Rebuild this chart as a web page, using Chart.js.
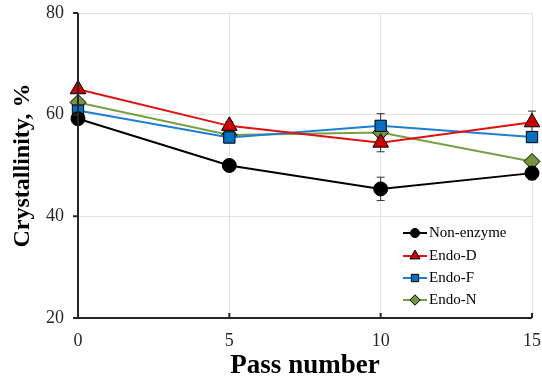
<!DOCTYPE html>
<html>
<head>
<meta charset="utf-8">
<script src="https://cdn.jsdelivr.net/npm/chart.js@4"></script>
<style>
  html, body { margin: 0; padding: 0; background: #fff; }
  #wrap { width: 542px; height: 382px; }
</style>
</head>
<body>
<div id="wrap"><canvas id="crystChart" width="542" height="382"></canvas></div>
<script>
// Data
const passNumbers = [0, 5, 10, 15];
const nonEnzyme = [59.2, 50.0, 45.4, 48.5];
const endoD = [65.0, 57.8, 54.5, 58.5];
const endoF = [60.8, 55.5, 57.8, 55.6];
const endoN = [62.4, 56.0, 56.5, 50.8];
// error bar half widths
const nonEnzymeErr = [1.0, 0.5, 2.3, 1.3];
const endoDErr = [0.5, 0.8, 1.8, 2.2];
const endoFErr = [0.5, 0.5, 2.4, 1.0];
const endoNErr = [0.5, 0.5, 0.8, 0.5];
const yTicks = [20, 40, 60, 80];
const xTicks = [0, 5, 10, 15];

const serif = '"Liberation Serif", "Times New Roman", serif';

function pts(vals) {
    return passNumbers.map(function (x, i) { return { x: x, y: vals[i] }; });
}

const series = [
    { label: 'Non-enzyme', data: nonEnzyme, err: nonEnzymeErr, line: '#000000', fill: '#000000', style: 'circle', r: 7 },
    { label: 'Endo-D', data: endoD, err: endoDErr, line: '#E01010', fill: '#D00000', style: 'triangle', r: 9 },
    { label: 'Endo-F', data: endoF, err: endoFErr, line: '#1C7FD6', fill: '#0070C0', style: 'rect', r: 8 },
    { label: 'Endo-N', data: endoN, err: endoNErr, line: '#77A040', fill: '#77933C', style: 'rectRot', r: 8 }
];

// error bars drawn behind the markers
const errorBars = {
    id: 'errorBars',
    beforeDatasetsDraw(chart) {
        const ctx = chart.ctx;
        const xs = chart.scales.x, ys = chart.scales.y;
        ctx.save();
        ctx.strokeStyle = '#333';
        ctx.lineWidth = 1;
        series.forEach(function (s) {
            passNumbers.forEach(function (p, i) {
                const x = xs.getPixelForValue(p);
                const y1 = ys.getPixelForValue(s.data[i] + s.err[i]);
                const y2 = ys.getPixelForValue(s.data[i] - s.err[i]);
                ctx.beginPath();
                ctx.moveTo(x, y1); ctx.lineTo(x, y2);
                ctx.moveTo(x - 4, y1); ctx.lineTo(x + 4, y1);
                ctx.moveTo(x - 4, y2); ctx.lineTo(x + 4, y2);
                ctx.stroke();
            });
        });
        ctx.restore();
    },
    afterDraw(chart) {
        const ctx = chart.ctx;
        const xs = chart.scales.x, ys = chart.scales.y;
        const a = chart.chartArea;
        ctx.save();
        // axis lines and inward x ticks
        ctx.strokeStyle = '#262626';
        ctx.lineWidth = 2;
        ctx.beginPath();
        ctx.moveTo(a.left, a.top); ctx.lineTo(a.left, a.bottom); ctx.lineTo(a.right, a.bottom);
        xTicks.forEach(function (t) {
            const x = xs.getPixelForValue(t);
            ctx.moveTo(x, a.bottom); ctx.lineTo(x, a.bottom - 5);
        });
        yTicks.forEach(function (t) {
            const y = ys.getPixelForValue(t);
            ctx.moveTo(a.left, y); ctx.lineTo(a.left - 5, y);
        });
        ctx.stroke();

        // legend
        const ly = [233, 256, 278, 300];
        ctx.font = '15px ' + serif;
        ctx.textBaseline = 'middle';
        ctx.textAlign = 'left';
        series.forEach(function (s, i) {
            ctx.strokeStyle = s.line;
            ctx.lineWidth = 2;
            ctx.beginPath();
            ctx.moveTo(403, ly[i]); ctx.lineTo(427, ly[i]);
            ctx.stroke();
            ctx.fillStyle = s.fill;
            ctx.strokeStyle = '#000';
            ctx.lineWidth = 1;
            Chart.helpers.drawPoint(ctx, { pointStyle: s.style, radius: s.r * 0.65, borderWidth: 1, rotation: 0 }, 415, ly[i]);
            ctx.fillStyle = '#000';
            ctx.fillText(s.label, 429, ly[i]);
        });
        ctx.restore();
    }
};

new Chart(document.getElementById('crystChart'), {
    type: 'line',
    data: {
        datasets: series.map(function (s) {
            return {
                label: s.label,
                data: pts(s.data),
                borderColor: s.line,
                borderWidth: 2,
                backgroundColor: s.fill,
                pointStyle: s.style,
                pointRadius: s.r,
                pointBorderColor: '#000',
                pointBorderWidth: 1,
                tension: 0,
                clip: false
            };
        })
    },
    options: {
        responsive: false,
        animation: false,
        layout: { padding: { top: 13, right: 9, left: 0, bottom: 0 } },
        plugins: {
            legend: { display: false },
            tooltip: { enabled: false }
        },
        scales: {
            x: {
                type: 'linear',
                min: 0, max: 15,
                afterBuildTicks(axis) { axis.ticks = xTicks.map(function (v) { return { value: v }; }); },
                grid: { color: '#e3e3e3', drawTicks: false },
                border: { display: false },
                ticks: { color: '#262626', padding: 12, font: { family: serif, size: 18 } },
                title: { display: true, text: 'Pass number', color: '#000', padding: { top: 0, bottom: 0 },
                    font: { family: serif, size: 27, weight: 'bold' } },
                afterFit(axis) { axis.height = 64; axis.paddingLeft = 0; axis.paddingRight = 0; }
            },
            y: {
                min: 20, max: 80,
                afterBuildTicks(axis) { axis.ticks = yTicks.map(function (v) { return { value: v }; }); },
                grid: { color: '#e3e3e3', drawTicks: false },
                border: { display: false },
                ticks: { color: '#262626', padding: 14, font: { family: serif, size: 18 } },
                title: { display: true, text: 'Crystallinity, %', color: '#000', padding: { top: 8, bottom: 4 },
                    font: { family: serif, size: 24, weight: 'bold' } },
                afterFit(axis) { axis.width = 78; axis.paddingTop = 0; axis.paddingBottom = 0; }
            }
        }
    },
    plugins: [errorBars]
});
</script>
</body>
</html>
